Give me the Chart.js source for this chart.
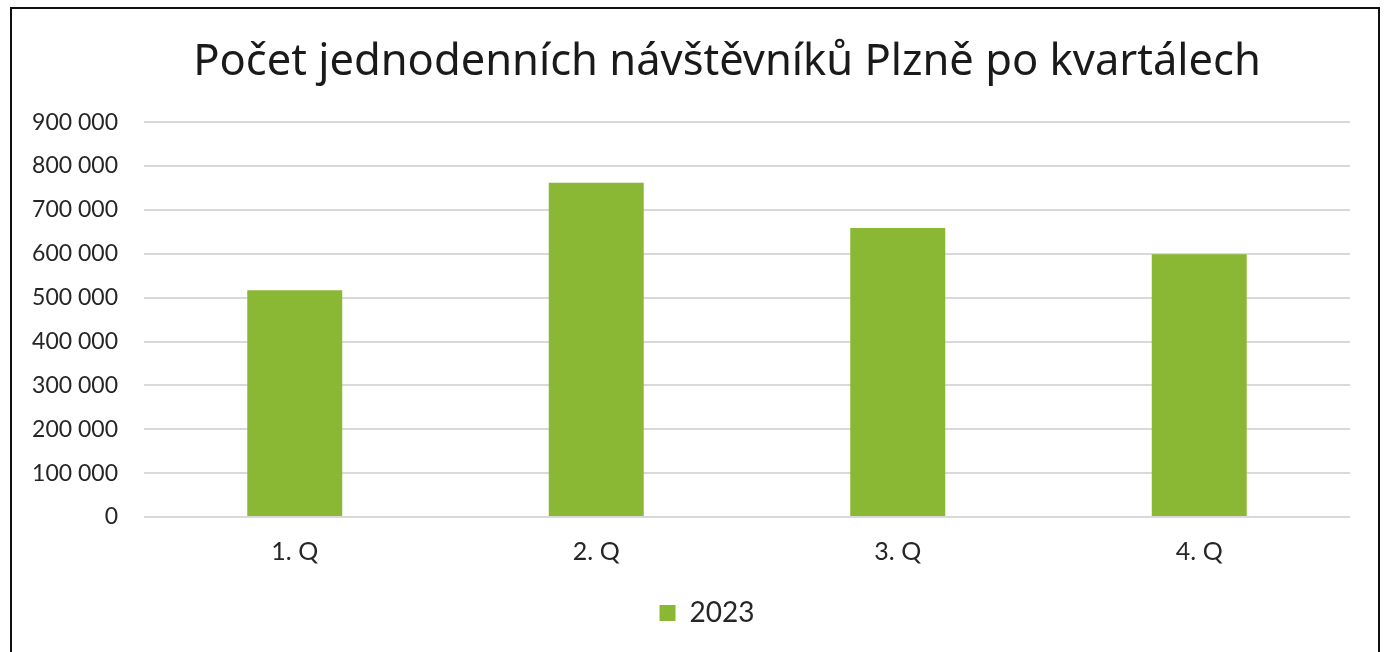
<!DOCTYPE html>
<html>
<head>
<meta charset="utf-8">
<script src="https://cdn.jsdelivr.net/npm/chart.js@4.4.0/dist/chart.umd.min.js"></script>
<style>
    html, body { margin: 0; padding: 0; background: #fff; }
    #wrap { position: relative; width: 1386px; height: 652px; overflow: hidden; }
    #ramecek {
        position: absolute; left: 10px; top: 7px; width: 1370px; height: 660px;
        border: 2px solid #111; box-sizing: border-box; pointer-events: none;
    }
</style>
</head>
<body>
<div id="wrap">
    <canvas id="graf" width="1386" height="652"></canvas>
    <div id="ramecek"></div>
</div>
<script>
const kvartaly = ['1. Q', '2. Q', '3. Q', '4. Q'];
const navstevnici2023 = [517000, 762000, 659000, 599000];
const rada = '2023';
const titulek = 'Počet jednodenních návštěvníků Plzně po kvartálech';

const zelena = '#8ab834';
const text = '#262626';

// titulek a legenda jsou v originale posunute doprava, k plose grafu
const posunBloku = {
    id: 'posunBloku',
    afterLayout(chart) {
        if (chart.titleBlock) chart.titleBlock.left += 84;
        if (chart.legend) chart.legend.left += 44;
    }
};

new Chart(document.getElementById('graf'), {
    type: 'bar',
    data: {
        labels: kvartaly,
        datasets: [{
            label: rada,
            data: navstevnici2023,
            backgroundColor: zelena,
            categoryPercentage: 1,
            barPercentage: 0.315
        }]
    },
    options: {
        responsive: false,
        animation: false,
        layout: { padding: { left: 20, right: 36, top: 0, bottom: 15 } },
        plugins: {
            title: {
                display: true,
                text: titulek,
                color: '#1a1a1a',
                font: { family: 'Noto Sans', size: 43.5, weight: 'normal', lineHeight: 1.2 },
                padding: { top: 37, bottom: 33 }
            },
            legend: {
                position: 'bottom',
                labels: {
                    color: text,
                    font: { family: 'Lato', size: 28 },
                    boxWidth: 16,
                    boxHeight: 16,
                    padding: 10
                }
            },
            tooltip: { enabled: false }
        },
        scales: {
            y: {
                min: 0,
                max: 900000,
                ticks: {
                    stepSize: 100000,
                    padding: 26,
                    color: text,
                    font: { family: 'Lato', size: 23 },
                    callback: v => v.toLocaleString('cs-CZ').replace(/\s/g, ' ')
                },
                grid: { color: '#d9d9d9', lineWidth: 2, drawTicks: false },
                border: { display: false },
                afterFit: s => { s.width = 124; }
            },
            x: {
                ticks: {
                    padding: 20,
                    color: text,
                    font: { family: 'Lato', size: 25 }
                },
                grid: { display: false, drawTicks: false },
                border: { display: false },
                afterFit: s => { s.height = 72; }
            }
        }
    },
    plugins: [posunBloku]
});
</script>
</body>
</html>
